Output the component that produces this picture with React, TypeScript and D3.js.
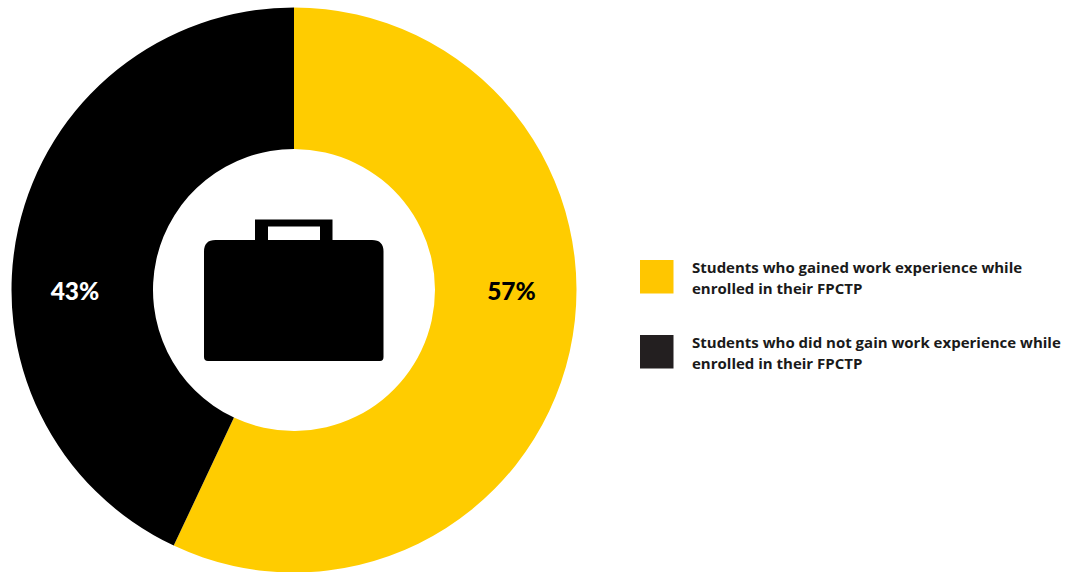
import React, { useMemo } from "react";
import * as d3 from "d3";

const categories = ["gained", "notGained"];
const shares = [57, 43];
const valueLabels = ["57%", "43%"];
const sliceColors = ["#ffcc00", "#000000"];
const swatchColors = ["#ffc600", "#231f20"];
const legendLines = [
  ["Students who gained work experience while", "enrolled in their FPCTP"],
  ["Students who did not gain work experience while", "enrolled in their FPCTP"],
];

const W = 1065;
const H = 572;
const cx = 294;
const cy = 290;
const outer = 282.5;
const inner = 141;
const VALUE_FONT = "Lato, sans-serif";
const LEGEND_FONT = "'Open Sans', sans-serif";

export default function App() {
  const slices = useMemo(() => {
    const pie = d3.pie<number>().sort(null).value((d) => d);
    return pie(shares);
  }, []);
  const arc = d3.arc<d3.PieArcDatum<number>>().innerRadius(inner).outerRadius(outer);

  return (
    <svg
      width={W}
      height={H}
      viewBox={`0 0 ${W} ${H}`}
      style={{ position: "absolute", left: 0, top: 0, background: "#fff" }}
    >
      <g transform={`translate(${cx},${cy})`}>
        {slices.map((s, i) => (
          <path key={categories[i]} d={arc(s) ?? ""} fill={sliceColors[i]} />
        ))}
        {slices.map((s, i) => (
          <text
            key={categories[i]}
            x={i === 0 ? 217.5 : -219}
            y={1.5}
            dy="0.35em"
            textAnchor="middle"
            fontFamily={VALUE_FONT}
            fontWeight={900}
            fontSize={24.5}
            fill={i === 0 ? "#000" : "#fff"}
          >
            {valueLabels[i]}
          </text>
        ))}
      </g>

      {/* briefcase icon in the hole of the ring */}
      <path
        fillRule="evenodd"
        fill="#000"
        d="M255 240V219.5H332.5V240H372Q383.5 240 383.5 251.5V357Q383.5 361 380 361H208Q204 361 204 357V251.5Q204 240 215.5 240ZM268 240H320V226.5H268Z"
      />

      {legendLines.map((lines, i) => {
        const top = i === 0 ? 260 : 335;
        return (
          <g key={categories[i]}>
            <rect x={640} y={top} width={33.5} height={33.5} fill={swatchColors[i]} />
            {lines.map((line, j) => (
              <text
                key={j}
                x={692}
                y={top + 12.5 + j * 21}
                fontFamily={LEGEND_FONT}
                fontWeight={700}
                fontSize={15}
                fill="#1a1a1a"
              >
                {line}
              </text>
            ))}
          </g>
        );
      })}
    </svg>
  );
}
